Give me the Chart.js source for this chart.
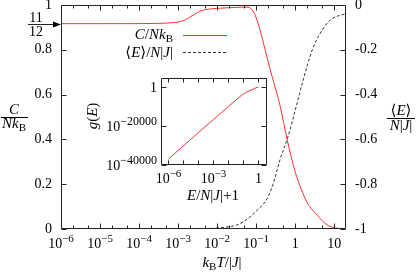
<!DOCTYPE html>
<html><head><meta charset="utf-8">
<script src="https://cdn.jsdelivr.net/npm/chart.js@4.4.1/dist/chart.umd.min.js"></script>
<style>
html,body{margin:0;padding:0;background:#fff;overflow:hidden}
#wrap{position:relative;width:416px;height:276px}
canvas{position:absolute;display:block}
#main{left:0;top:0}
#inset{left:80px;top:70px}
</style></head><body>
<div id="wrap"><canvas id="main" width="416" height="276"></canvas><canvas id="inset" width="200" height="140"></canvas></div>
<script>
// ---------- data ----------
const tempC = [1e-6,1e-5,1e-4,3e-4,6e-4,1e-3,1.5e-3,2e-3,2.7e-3,3.6e-3,5e-3,7e-3,1e-2,2e-2,4e-2,6.2e-2,7.9e-2,9.4e-2,0.126,0.17,0.23,0.41,0.62,1.0,2.0,3.65,6.6,10.6,20];
const heatC = [0.9167,0.9167,0.9168,0.918,0.920,0.924,0.933,0.946,0.960,0.972,0.979,0.983,0.985,0.988,0.990,0.990,0.978,0.955,0.888,0.799,0.71,0.549,0.40,0.255,0.12,0.062,0.018,0.005,0.001];
const tempE = [1e-6,1e-3,3.6e-3,8e-3,0.02,0.032,0.06,0.1,0.19,0.27,0.41,0.66,1.0,1.6,2.74,4.4,7.9,20];
const energyE = [-1,-1,-0.999,-0.997,-0.99,-0.982,-0.955,-0.92,-0.865,-0.80,-0.69,-0.585,-0.47,-0.335,-0.20,-0.125,-0.067,-0.038];
const heatRef = 11/12;
const xTickExps = [-6,-5,-4,-3,-2,-1,0,1];
const xMinorMults = [2,5];
const yLeftTicks = [0,0.2,0.4,0.6,0.8,1];
const yRightTicks = [-1,-0.8,-0.6,-0.4,-0.2,0];
// inset: x = E/N|J|+1, y = log10 g(E)
const insetX = [1e-6,1e-5,1e-4,1e-3,1e-2,0.05,0.1,0.2,0.4,0.6,0.8,1];
const insetLogG = [-36900,-30100,-23300,-16600,-9900,-5300,-3500,-2200,-1200,-500,-130,0];
const insetXTickExps = [-6,-5,-4,-3,-2,-1,0];
const insetXLabelExps = [-6,-3,0];
const insetYTicks = [0,-20000,-40000];

// ---------- helpers ----------
const FONT = '"Liberation Serif","DejaVu Serif",serif';
const RED = '#ff3030', DARK = '#333';
function rich(ctx, segs, x, y, align, size, supScale) {
  const sc = supScale || 0.78;
  const items = segs.map(([t, st]) => {
    const small = st === 'sub' || st === 'sup';
    const fs = small ? Math.round(size * sc) : size;
    const font = (st === 'i' ? 'italic ' : '') + fs + 'px ' + FONT;
    ctx.font = font;
    return {t, font, w: ctx.measureText(t).width, dy: st === 'sub' ? size * 0.22 : st === 'sup' ? -size * 0.42 : 0};
  });
  const total = items.reduce((s, i) => s + i.w, 0);
  let cx = align === 'center' ? x - total / 2 : align === 'right' ? x - total : x;
  ctx.fillStyle = '#000'; ctx.textAlign = 'left'; ctx.textBaseline = 'alphabetic';
  items.forEach(i => { ctx.font = i.font; ctx.fillText(i.t, cx, y + i.dy); cx += i.w; });
  return total;
}
function powLabel(e) {
  if (e === 0) return [['1', 'r']];
  if (e === 1) return [['10', 'r']];
  return [['10', 'r'], [(e < 0 ? '\u2212' : '') + Math.abs(e), 'sup']];
}
function logGLabel(v) {
  if (v === 0) return [['1', 'r']];
  return [['10', 'r'], ['\u2212' + Math.abs(v), 'sup']];
}
const px = v => Math.round(v) + 0.5;

// ---------- main chart ----------
const mainDeco = {
  id: 'mainDeco',
  afterDraw(chart) {
    const {ctx, chartArea: a, scales: {x: X, y: Y, y2: Y2}} = chart;
    const L = px(a.left), R = px(a.right) - 1, T = px(a.top), B = px(a.bottom) - 1;
    ctx.save();
    ctx.strokeStyle = '#222'; ctx.lineWidth = 1; ctx.setLineDash([]);
    ctx.beginPath();
    ctx.rect(L, T, R - L, B - T);
    xTickExps.forEach(e => {
      const p = px(X.getPixelForValue(10 ** e));
      ctx.moveTo(p, B); ctx.lineTo(p, B - 5); ctx.moveTo(p, T); ctx.lineTo(p, T + 5);
      xMinorMults.forEach(m => {
        const v = m * 10 ** e;
        if (v < X.max) { const q = px(X.getPixelForValue(v)); ctx.moveTo(q, B); ctx.lineTo(q, B - 3); ctx.moveTo(q, T); ctx.lineTo(q, T + 3); }
      });
    });
    yLeftTicks.forEach(v => { const p = px(Y.getPixelForValue(v)); ctx.moveTo(L, p); ctx.lineTo(L + 5, p); });
    yRightTicks.forEach(v => { const p = px(Y2.getPixelForValue(v)); ctx.moveTo(R, p); ctx.lineTo(R - 5, p); });
    ctx.stroke();
    // x tick labels
    xTickExps.forEach(e => rich(ctx, powLabel(e), X.getPixelForValue(10 ** e), 248, 'center', 14));
    // 11/12 arrow
    const ay = px(Y.getPixelForValue(heatRef));
    ctx.beginPath(); ctx.moveTo(28, ay); ctx.lineTo(a.left - 6, ay); ctx.stroke();
    ctx.beginPath(); ctx.moveTo(a.left, ay); ctx.lineTo(a.left - 8, ay - 3); ctx.lineTo(a.left - 8, ay + 3); ctx.closePath();
    ctx.fillStyle = '#000'; ctx.fill();
    rich(ctx, [['11', 'r']], 36, ay - 3, 'center', 14);
    rich(ctx, [['12', 'r']], 36, ay + 11, 'center', 14);
    // legend
    rich(ctx, [['C', 'i'], ['/', 'r'], ['N', 'i'], ['k', 'i'], ['B', 'sub']], 173, 39, 'right', 15, 0.72);
    ctx.strokeStyle = RED; ctx.beginPath(); ctx.moveTo(183, 35.5); ctx.lineTo(227, 35.5); ctx.stroke();
    rich(ctx, [['\u27E8', 'r'], ['E', 'i'], ['\u27E9', 'r'], ['/', 'r'], ['N', 'i'], ['|', 'r'], ['J', 'i'], ['|', 'r']], 173, 57, 'right', 15);
    ctx.strokeStyle = DARK; ctx.setLineDash([3, 2]); ctx.beginPath(); ctx.moveTo(183, 52.5); ctx.lineTo(227, 52.5); ctx.stroke();
    ctx.setLineDash([]);
    // left axis title (fraction)
    ctx.strokeStyle = '#000';
    rich(ctx, [['C', 'i']], 14, 114, 'center', 15);
    ctx.beginPath(); ctx.moveTo(1, 117.5); ctx.lineTo(28, 117.5); ctx.stroke();
    rich(ctx, [['N', 'i'], ['k', 'i'], ['B', 'sub']], 14, 128, 'center', 15, 0.72);
    // right axis title (fraction)
    rich(ctx, [['\u27E8', 'r'], ['E', 'i'], ['\u27E9', 'r']], 401, 115, 'center', 15);
    ctx.beginPath(); ctx.moveTo(387, 118.5); ctx.lineTo(415, 118.5); ctx.stroke();
    rich(ctx, [['N', 'i'], ['|', 'r'], ['J', 'i'], ['|', 'r']], 401, 130, 'center', 15);
    // bottom axis title
    rich(ctx, [['k', 'i'], ['B', 'sub'], ['T', 'i'], ['/|', 'r'], ['J', 'i'], ['|', 'r']], 222, 267, 'center', 15, 0.72);
    ctx.restore();
  }
};

new Chart(document.getElementById('main'), {
  type: 'line',
  data: {datasets: [
    {label: 'C/NkB', data: tempC.map((t, i) => ({x: t, y: heatC[i]})), yAxisID: 'y',
     borderColor: RED, borderWidth: 1, pointRadius: 0, fill: false, cubicInterpolationMode: 'monotone'},
    {label: '<E>/N|J|', data: tempE.map((t, i) => ({x: t, y: energyE[i]})), yAxisID: 'y2',
     borderColor: DARK, borderWidth: 1, borderDash: [3, 2], pointRadius: 0, fill: false, cubicInterpolationMode: 'monotone'}
  ]},
  options: {
    responsive: false, animation: false, devicePixelRatio: 1,
    layout: {padding: {top: 5, left: 0, right: 0, bottom: 0}},
    plugins: {legend: {display: false}, tooltip: {enabled: false}},
    scales: {
      x: {type: 'logarithmic', min: 1e-6, max: 20,
          grid: {display: false, drawTicks: false}, border: {display: false}, ticks: {display: false},
          afterFit: s => { s.height = 47; s.paddingLeft = 0; s.paddingRight = 0; }},
      y: {type: 'linear', position: 'left', min: 0, max: 1,
          grid: {display: false, drawTicks: false}, border: {display: false},
          afterBuildTicks: s => { s.ticks = yLeftTicks.map(v => ({value: v})); },
          ticks: {padding: 9, color: '#000', font: {family: FONT, size: 14},
                  callback: v => (v === 0 ? '0' : v === 1 ? '1' : v.toFixed(1))},
          afterFit: s => { s.width = 61; s.paddingTop = 0; s.paddingBottom = 0; }},
      y2: {type: 'linear', position: 'right', min: -1, max: 0,
          grid: {display: false, drawTicks: false}, border: {display: false},
          afterBuildTicks: s => { s.ticks = yRightTicks.map(v => ({value: v})); },
          ticks: {padding: 9, color: '#000', font: {family: FONT, size: 14},
                  callback: v => (v === 0 ? '0' : v === -1 ? '-1' : v.toFixed(1))},
          afterFit: s => { s.width = 70; s.paddingTop = 0; s.paddingBottom = 0; }}
    }
  },
  plugins: [mainDeco]
});

// ---------- inset chart ----------
const insetDeco = {
  id: 'insetDeco',
  beforeDatasetsDraw(chart) {
    const {ctx, chartArea: a} = chart;
    ctx.save(); ctx.fillStyle = '#fff'; ctx.fillRect(a.left, a.top, a.right - a.left, a.bottom - a.top); ctx.restore();
  },
  afterDraw(chart) {
    const {ctx, chartArea: a, scales: {x: X, y: Y}} = chart;
    const L = px(a.left), R = px(a.right) - 1, T = px(a.top), B = px(a.bottom) - 1;
    ctx.save();
    ctx.strokeStyle = '#222'; ctx.lineWidth = 1;
    ctx.beginPath();
    ctx.rect(L, T, R - L, B - T);
    insetXTickExps.forEach(e => {
      const p = px(X.getPixelForValue(10 ** e));
      ctx.moveTo(p, B); ctx.lineTo(p, B - 4); ctx.moveTo(p, T); ctx.lineTo(p, T + 4);
    });
    insetYTicks.forEach(v => {
      const p = px(Y.getPixelForValue(v));
      ctx.moveTo(L, p); ctx.lineTo(L + 5, p); ctx.moveTo(R, p); ctx.lineTo(R - 5, p);
    });
    ctx.stroke();
    insetXLabelExps.forEach(e => rich(ctx, powLabel(e), X.getPixelForValue(10 ** e), 113, 'center', 14));
    insetYTicks.forEach(v => rich(ctx, logGLabel(v), a.left - 4, Y.getPixelForValue(v) + 4.5, 'right', 14, 0.84));
    rich(ctx, [['E', 'i'], ['/', 'r'], ['N', 'i'], ['|', 'r'], ['J', 'i'], ['|+1', 'r']], 133, 130, 'center', 15);
    ctx.translate(13, 46); ctx.rotate(-Math.PI / 2);
    rich(ctx, [['g', 'i'], ['(', 'r'], ['E', 'i'], [')', 'r']], 0, 4, 'center', 15);
    ctx.restore();
  }
};

new Chart(document.getElementById('inset'), {
  type: 'line',
  data: {datasets: [
    {label: 'g(E)', data: insetX.map((t, i) => ({x: t, y: insetLogG[i]})),
     borderColor: RED, borderWidth: 1, pointRadius: 0, fill: false, cubicInterpolationMode: 'monotone'}
  ]},
  options: {
    responsive: false, animation: false, devicePixelRatio: 1,
    layout: {padding: {top: 8, left: 0, right: 13, bottom: 0}},
    plugins: {legend: {display: false}, tooltip: {enabled: false}},
    scales: {
      x: {type: 'logarithmic', min: Math.pow(10, -6.5), max: 3.7,
          grid: {display: false, drawTicks: false}, border: {display: false}, ticks: {display: false},
          afterFit: s => { s.height = 45; s.paddingLeft = 0; s.paddingRight = 0; }},
      y: {type: 'linear', min: -40000, max: 4700,
          grid: {display: false, drawTicks: false}, border: {display: false}, ticks: {display: false},
          afterFit: s => { s.width = 81; s.paddingTop = 0; s.paddingBottom = 0; }}
    }
  },
  plugins: [insetDeco]
});
</script>
</body></html>
